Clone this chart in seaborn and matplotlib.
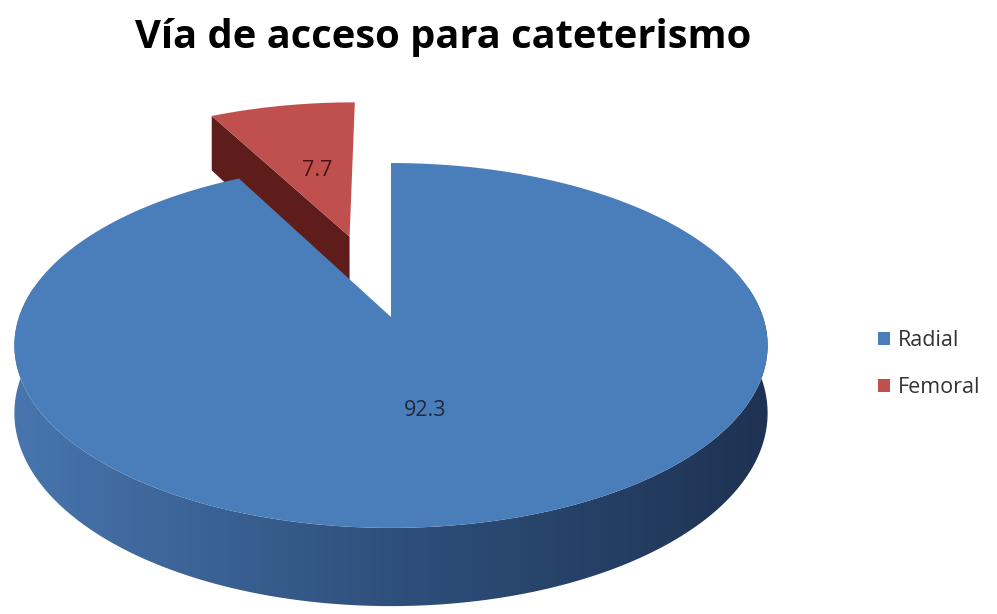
import numpy as np
import matplotlib
matplotlib.use("Agg")
import matplotlib.pyplot as plt
import seaborn as sns
from matplotlib.patches import Polygon, Patch

# Data
categories = ["Radial", "Femoral"]
values = [92.3, 7.7]
explode = [0.0, 0.5]
value_labels = ["92.3", "7.7"]
title = "Vía de acceso para cateterismo"

sns.set_theme(style="white")
plt.rcParams["font.family"] = ["Open Sans", "DejaVu Sans"]

top_colors = sns.color_palette(["#4A7EBB", "#C0504D"])
cut_colors = ["#2E4F7C", "#5E1D1B"]

W, H = 997, 614
fig = plt.figure(figsize=(W / 100, H / 100), dpi=100)
ax = fig.add_axes([0, 0, 1, 1])
ax.set_xlim(0, W)
ax.set_ylim(H, 0)
ax.axis("off")

# Perspective projection of the pie disc (pixel space)
cx, cy = 391.0, 317.0
A, B, k, h = 372.0, 178.0, 0.156, 66.0


def proj(X, Y, down=0.0):
    w = 1 + k * Y
    return cx + A * X / w, cy - B * Y / w + h * down / w


def rim(a0, a1, off, down=0.0, n=300):
    t = np.radians(np.linspace(a0, a1, n))
    u, v = proj(np.cos(t) + off[0], np.sin(t) + off[1], down)
    return np.column_stack([u, v])


total = sum(values)
start = 90.0
slices = []
for val, ex in zip(values, explode):
    span = val / total * 360.0
    a0, a1 = start - span, start
    mid = np.radians((a0 + a1) / 2)
    off = (ex * np.cos(mid), ex * np.sin(mid))
    slices.append((a0, a1, off))
    start -= span

# draw back-to-front: exploded far slices first
order = sorted(range(len(values)), key=lambda i: -slices[i][2][1])
for i in order:
    a0, a1, off = slices[i]
    vtx_top = np.array(proj(off[0], off[1]))
    vtx_bot = np.array(proj(off[0], off[1], 1.0))

    # radial cut faces that face the viewer
    for ang, vis in ((a1, np.cos(np.radians(a1)) < -1e-6),
                     (a0, np.cos(np.radians(a0)) > 1e-6)):
        if vis:
            t = np.radians(ang)
            p_top = proj(np.cos(t) + off[0], np.sin(t) + off[1])
            p_bot = proj(np.cos(t) + off[0], np.sin(t) + off[1], 1.0)
            ax.add_patch(Polygon([vtx_top, p_top, p_bot, vtx_bot],
                                 closed=True, facecolor=cut_colors[i],
                                 edgecolor="none", zorder=2))

    # outer side (front part only) with horizontal shading
    lo, hi = max(a0, -190.0), min(a1, 10.0)
    if i == 0 and hi > lo:
        top_arc = rim(lo, hi, off)
        bot_arc = rim(lo, hi, off, 1.0)[::-1]
        side = Polygon(np.vstack([top_arc, bot_arc]), closed=True,
                       facecolor="none", edgecolor="none")
        ax.add_patch(side)
        xs = np.arange(W)
        stops_x = [15, 390, 770]
        cols = np.array([[72, 117, 174], [46, 80, 124], [30, 50, 82]]) / 255
        grad = np.stack([np.interp(xs, stops_x, cols[:, c]) for c in range(3)], axis=-1)
        img = np.repeat(grad[None, :, :], 2, axis=0)
        im = ax.imshow(img, extent=[0, W, H, 0], aspect="auto", zorder=3,
                       interpolation="bilinear")
        im.set_clip_path(side)

    # top face
    top = np.vstack([vtx_top, rim(a0, a1, off)])
    ax.add_patch(Polygon(top, closed=True, facecolor=top_colors[i],
                         edgecolor="none", zorder=4))

ax.set_xlim(0, W)
ax.set_ylim(H, 0)

# value labels
label_pos = [(425, 410), (317, 170)]
label_cols = ["#1F2A3A", "#4A1212"]
for (x, y), txt, c in zip(label_pos, value_labels, label_cols):
    ax.text(x, y, txt, ha="center", va="center", fontsize=15.5, color=c, zorder=6)

# title, sized to span its line
t = fig.text(443.5 / W, 1 - 48 / H, title, ha="center", va="baseline",
             fontsize=26, fontweight="bold", color="#000000")
fig.canvas.draw()
tw = t.get_window_extent(fig.canvas.get_renderer()).width
t.set_fontsize(26 * 617 / tw)

handles = [Patch(facecolor=c, edgecolor="none") for c in top_colors]
fig.legend(handles, categories, loc="center left",
           bbox_to_anchor=(878 / W, 1 - 364 / H), frameon=False,
           handlelength=0.55, handleheight=0.55, handletextpad=0.35,
           labelspacing=1.2, fontsize=15.5, labelcolor="#333333",
           borderaxespad=0, borderpad=0)

fig.savefig("out.png", dpi=100)
